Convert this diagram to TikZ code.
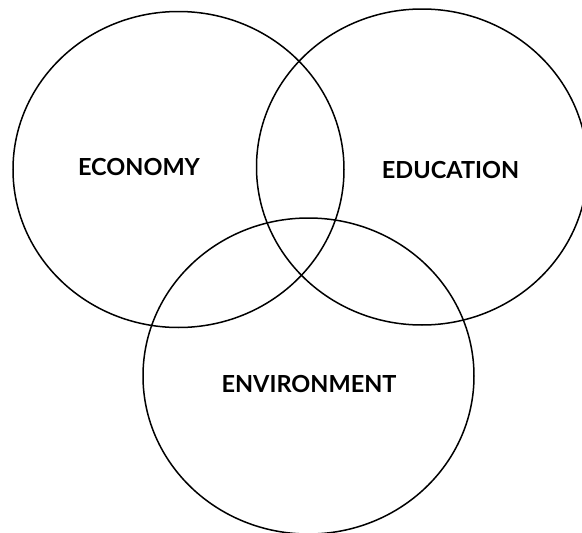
\documentclass[tikz,border=0pt]{standalone}
\usepackage{fontspec}
\setmainfont{Lato}
\usetikzlibrary{shapes.geometric,positioning}
\tikzset{
    sector/.style ={ellipse, draw, line width=1.5pt, minimum width=331pt, minimum height=316pt, inner sep=0pt},
    tag/.style ={font=\fontsize{23.5}{25}\selectfont\bfseries, inner sep=0pt}
}
\begin{document}
\begin{tikzpicture}[x=1pt,y=-1pt]
\useasboundingbox (0,0) rectangle (582,533);
% Circles
\node[sector] (eco) at (178.5,169.5) {};
\node[sector] (edu) at (422,167) {};
\node[sector] (env) at (308.5,376) {};

% Labels
\node[tag] (ecotxt) at (139,167.5) {ECONOMY};
\node[tag] (edutxt) at (450.5,170) {EDUCATION};
\node[tag] (envtxt) at (309,384.5) {ENVIRONMENT};
\end{tikzpicture}
\end{document}
